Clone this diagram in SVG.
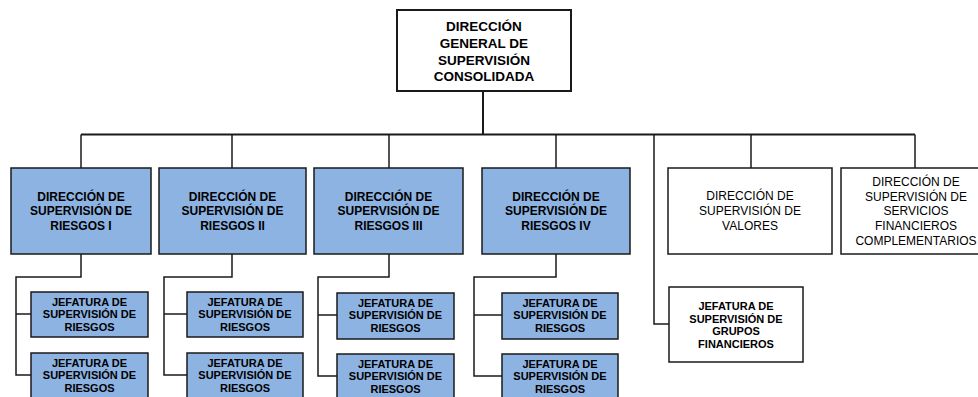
<svg xmlns="http://www.w3.org/2000/svg" width="978" height="397" viewBox="0 0 978 397">
<style>
.box{stroke:#1a1a1a;stroke-width:1.5}
.blue{fill:#8db3e2}
.white{fill:#ffffff}
.t{font-family:"Liberation Sans",Arial,sans-serif;fill:#000;text-anchor:middle}
.b12{font-size:12px;font-weight:bold}
.b11{font-size:11px;font-weight:bold}
.b135{font-size:13.5px;font-weight:bold}
.r12{font-size:12px}
.c{fill:none;stroke:#1a1a1a;stroke-width:1.5}
</style>
<rect width="978" height="397" fill="#ffffff"/>
<g id="connectors">
<line class="c" x1="483" y1="91" x2="483" y2="134.5" style="stroke-width:2"/>
<line class="c" x1="81" y1="134.5" x2="915" y2="134.5" style="stroke-width:2"/>
<line class="c" x1="81" y1="134.5" x2="81" y2="168"/>
<line class="c" x1="232" y1="134.5" x2="232" y2="168"/>
<line class="c" x1="389" y1="134.5" x2="389" y2="168"/>
<line class="c" x1="556" y1="134.5" x2="556" y2="168"/>
<line class="c" x1="751" y1="134.5" x2="751" y2="168"/>
<line class="c" x1="915" y1="134.5" x2="915" y2="168"/>
<polyline class="c" points="654,134.5 654,324 669,324"/>
<polyline class="c" points="81,254 81,277 16,277 16,375 31,375"/>
<line class="c" x1="16" y1="314" x2="31" y2="314"/>
<polyline class="c" points="232,254 232,277 164,277 164,375 187,375"/>
<line class="c" x1="164" y1="314" x2="187" y2="314"/>
<polyline class="c" points="389,254 389,277 318,277 318,376 337,376"/>
<line class="c" x1="318" y1="315" x2="337" y2="315"/>
<polyline class="c" points="556,254 556,277 474,277 474,376 502,376"/>
<line class="c" x1="474" y1="315" x2="502" y2="315"/>
</g>
<g id="n-general">
<rect class="box white" x="397" y="10" width="174" height="81" style="stroke-width:2"/>
<text class="t b135"><tspan x="484" y="31">DIRECCIÓN</tspan><tspan x="484" y="47.8">GENERAL DE</tspan><tspan x="484" y="64.5">SUPERVISIÓN</tspan><tspan x="484" y="81.3">CONSOLIDADA</tspan></text>
</g>
<g id="n-riesgos1">
<rect class="box blue" x="11" y="168" width="140" height="86"/>
<text class="t b12"><tspan x="81" y="200.6">DIRECCIÓN DE</tspan><tspan x="81" y="215.3">SUPERVISIÓN DE</tspan><tspan x="81" y="230">RIESGOS I</tspan></text>
</g>
<g id="n-riesgos2">
<rect class="box blue" x="159" y="168" width="147" height="86"/>
<text class="t b12"><tspan x="232.5" y="200.6">DIRECCIÓN DE</tspan><tspan x="232.5" y="215.3">SUPERVISIÓN DE</tspan><tspan x="232.5" y="230">RIESGOS II</tspan></text>
</g>
<g id="n-riesgos3">
<rect class="box blue" x="314" y="168" width="149" height="86"/>
<text class="t b12"><tspan x="388.5" y="200.6">DIRECCIÓN DE</tspan><tspan x="388.5" y="215.3">SUPERVISIÓN DE</tspan><tspan x="388.5" y="230">RIESGOS III</tspan></text>
</g>
<g id="n-riesgos4">
<rect class="box blue" x="482" y="168" width="148" height="86"/>
<text class="t b12"><tspan x="556" y="200.6">DIRECCIÓN DE</tspan><tspan x="556" y="215.3">SUPERVISIÓN DE</tspan><tspan x="556" y="230">RIESGOS IV</tspan></text>
</g>
<g id="n-valores">
<rect class="box white" x="668" y="168" width="164" height="86"/>
<text class="t r12"><tspan x="750" y="200.3">DIRECCIÓN DE</tspan><tspan x="750" y="215.3">SUPERVISIÓN DE</tspan><tspan x="750" y="230.3">VALORES</tspan></text>
</g>
<g id="n-servicios">
<rect class="box white" x="841" y="168" width="150" height="86"/>
<text class="t r12"><tspan x="916" y="186">DIRECCIÓN DE</tspan><tspan x="916" y="200.7">SUPERVISIÓN DE</tspan><tspan x="916" y="215.3">SERVICIOS</tspan><tspan x="916" y="230">FINANCIEROS</tspan><tspan x="916" y="244.6">COMPLEMENTARIOS</tspan></text>
</g>
<g id="n-grupos">
<rect class="box white" x="669" y="287" width="134" height="75"/>
<text class="t b11"><tspan x="736" y="310">JEFATURA DE</tspan><tspan x="736" y="322.7">SUPERVISIÓN DE</tspan><tspan x="736" y="335.4">GRUPOS</tspan><tspan x="736" y="348">FINANCIEROS</tspan></text>
</g>
<g id="n-jef1a">
<rect class="box blue" x="31" y="292" width="117" height="45"/>
<text class="t b11"><tspan x="89.5" y="306.2">JEFATURA DE</tspan><tspan x="89.5" y="318.4">SUPERVISIÓN DE</tspan><tspan x="89.5" y="330.6">RIESGOS</tspan></text>
</g>
<g id="n-jef1b">
<rect class="box blue" x="31" y="353" width="117" height="47"/>
<text class="t b11"><tspan x="89.5" y="367.2">JEFATURA DE</tspan><tspan x="89.5" y="379.4">SUPERVISIÓN DE</tspan><tspan x="89.5" y="391.6">RIESGOS</tspan></text>
</g>
<g id="n-jef2a">
<rect class="box blue" x="187" y="292" width="116" height="45"/>
<text class="t b11"><tspan x="245" y="306.2">JEFATURA DE</tspan><tspan x="245" y="318.4">SUPERVISIÓN DE</tspan><tspan x="245" y="330.6">RIESGOS</tspan></text>
</g>
<g id="n-jef2b">
<rect class="box blue" x="187" y="353" width="116" height="47"/>
<text class="t b11"><tspan x="245" y="367.2">JEFATURA DE</tspan><tspan x="245" y="379.4">SUPERVISIÓN DE</tspan><tspan x="245" y="391.6">RIESGOS</tspan></text>
</g>
<g id="n-jef3a">
<rect class="box blue" x="337" y="293" width="117" height="46"/>
<text class="t b11"><tspan x="395.5" y="307.2">JEFATURA DE</tspan><tspan x="395.5" y="319.4">SUPERVISIÓN DE</tspan><tspan x="395.5" y="331.6">RIESGOS</tspan></text>
</g>
<g id="n-jef3b">
<rect class="box blue" x="337" y="354" width="117" height="46"/>
<text class="t b11"><tspan x="395.5" y="368.2">JEFATURA DE</tspan><tspan x="395.5" y="380.4">SUPERVISIÓN DE</tspan><tspan x="395.5" y="392.6">RIESGOS</tspan></text>
</g>
<g id="n-jef4a">
<rect class="box blue" x="502" y="293" width="116" height="46"/>
<text class="t b11"><tspan x="560" y="307.2">JEFATURA DE</tspan><tspan x="560" y="319.4">SUPERVISIÓN DE</tspan><tspan x="560" y="331.6">RIESGOS</tspan></text>
</g>
<g id="n-jef4b">
<rect class="box blue" x="502" y="354" width="116" height="46"/>
<text class="t b11"><tspan x="560" y="368.2">JEFATURA DE</tspan><tspan x="560" y="380.4">SUPERVISIÓN DE</tspan><tspan x="560" y="392.6">RIESGOS</tspan></text>
</g>
</svg>
